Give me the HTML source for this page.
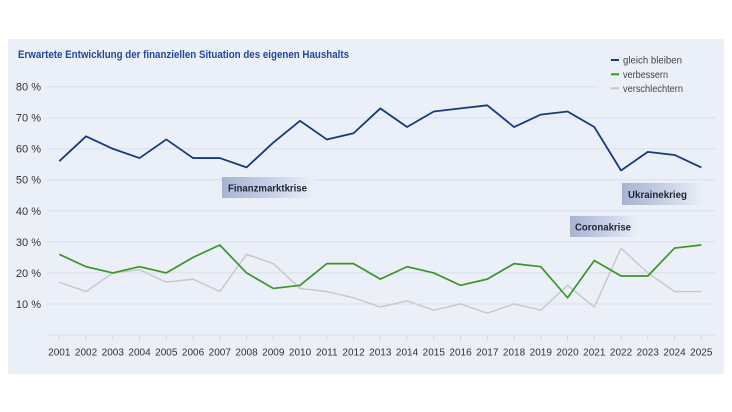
<!DOCTYPE html>
<html><head><meta charset="utf-8">
<style>
html,body{margin:0;padding:0;background:#fff;}
svg{display:block;}
text{font-family:"Liberation Sans",sans-serif;}
</style></head>
<body>
<svg width="732" height="412" viewBox="0 0 732 412" xmlns="http://www.w3.org/2000/svg">
<defs>
<linearGradient id="g1" x1="0" x2="1" y1="0" y2="0">
<stop offset="0" stop-color="#a6b3d2"/>
<stop offset="0.55" stop-color="#c9d2e6"/>
<stop offset="1" stop-color="#ebeff8"/>
</linearGradient>
</defs>
<rect x="0" y="0" width="732" height="412" fill="#fff"/>
<rect x="8" y="39" width="716" height="335" fill="#ebeff8"/>
<text x="18" y="58" font-size="11" font-weight="bold" fill="#21479a" textLength="331" lengthAdjust="spacingAndGlyphs">Erwartete Entwicklung der finanziellen Situation des eigenen Haushalts</text>

<g stroke="#d9dfeb" stroke-width="1">
<line x1="47" x2="598" y1="86.7" y2="86.7"/>
<line x1="47" x2="716" y1="117.7" y2="117.7"/>
<line x1="47" x2="716" y1="148.7" y2="148.7"/>
<line x1="47" x2="716" y1="179.7" y2="179.7"/>
<line x1="47" x2="716" y1="210.8" y2="210.8"/>
<line x1="47" x2="716" y1="241.9" y2="241.9"/>
<line x1="47" x2="716" y1="272.9" y2="272.9"/>
<line x1="47" x2="716" y1="304" y2="304"/>
<line x1="47" x2="716" y1="335" y2="335"/>
</g>
<g stroke="#d0d6e3" stroke-width="1">
<line x1="59.3" x2="59.3" y1="335" y2="340"/><line x1="86.05" x2="86.05" y1="335" y2="340"/><line x1="112.8" x2="112.8" y1="335" y2="340"/><line x1="139.55" x2="139.55" y1="335" y2="340"/><line x1="166.3" x2="166.3" y1="335" y2="340"/><line x1="193.05" x2="193.05" y1="335" y2="340"/><line x1="219.8" x2="219.8" y1="335" y2="340"/><line x1="246.55" x2="246.55" y1="335" y2="340"/><line x1="273.3" x2="273.3" y1="335" y2="340"/><line x1="300.05" x2="300.05" y1="335" y2="340"/><line x1="326.8" x2="326.8" y1="335" y2="340"/><line x1="353.55" x2="353.55" y1="335" y2="340"/><line x1="380.3" x2="380.3" y1="335" y2="340"/><line x1="407.05" x2="407.05" y1="335" y2="340"/><line x1="433.8" x2="433.8" y1="335" y2="340"/><line x1="460.55" x2="460.55" y1="335" y2="340"/><line x1="487.3" x2="487.3" y1="335" y2="340"/><line x1="514.05" x2="514.05" y1="335" y2="340"/><line x1="540.8" x2="540.8" y1="335" y2="340"/><line x1="567.55" x2="567.55" y1="335" y2="340"/><line x1="594.3" x2="594.3" y1="335" y2="340"/><line x1="621.05" x2="621.05" y1="335" y2="340"/><line x1="647.8" x2="647.8" y1="335" y2="340"/><line x1="674.55" x2="674.55" y1="335" y2="340"/><line x1="701.3" x2="701.3" y1="335" y2="340"/>
</g>

<g font-size="11" fill="#333" text-anchor="end">
<text x="41" y="90.7">80 %</text>
<text x="41" y="121.7">70 %</text>
<text x="41" y="152.7">60 %</text>
<text x="41" y="183.7">50 %</text>
<text x="41" y="214.8">40 %</text>
<text x="41" y="245.9">30 %</text>
<text x="41" y="276.9">20 %</text>
<text x="41" y="308">10 %</text>
</g>

<g font-size="10" fill="#333" text-anchor="middle">
<text x="59.3" y="355.5">2001</text><text x="86.05" y="355.5">2002</text><text x="112.8" y="355.5">2003</text><text x="139.55" y="355.5">2004</text><text x="166.3" y="355.5">2005</text><text x="193.05" y="355.5">2006</text><text x="219.8" y="355.5">2007</text><text x="246.55" y="355.5">2008</text><text x="273.3" y="355.5">2009</text><text x="300.05" y="355.5">2010</text><text x="326.8" y="355.5">2011</text><text x="353.55" y="355.5">2012</text><text x="380.3" y="355.5">2013</text><text x="407.05" y="355.5">2014</text><text x="433.8" y="355.5">2015</text><text x="460.55" y="355.5">2016</text><text x="487.3" y="355.5">2017</text><text x="514.05" y="355.5">2018</text><text x="540.8" y="355.5">2019</text><text x="567.55" y="355.5">2020</text><text x="594.3" y="355.5">2021</text><text x="621.05" y="355.5">2022</text><text x="647.8" y="355.5">2023</text><text x="674.55" y="355.5">2024</text><text x="701.3" y="355.5">2025</text>
</g>

<!-- annotation boxes -->
<rect x="222" y="177" width="92" height="21" fill="url(#g1)"/>
<text x="228" y="191.5" font-size="10" font-weight="bold" fill="#1e2636" textLength="79" lengthAdjust="spacingAndGlyphs">Finanzmarktkrise</text>
<rect x="622" y="183" width="82" height="22" fill="url(#g1)"/>
<text x="628" y="198" font-size="10" font-weight="bold" fill="#1e2636" textLength="59" lengthAdjust="spacingAndGlyphs">Ukrainekrieg</text>
<rect x="570" y="216" width="68" height="21" fill="url(#g1)"/>
<text x="575" y="230.5" font-size="10" font-weight="bold" fill="#1e2636" textLength="56" lengthAdjust="spacingAndGlyphs">Coronakrise</text>

<!-- series -->
<g transform="translate(59.3,335) scale(26.75,-3.104)" fill="none" stroke-linejoin="round">
<polyline vector-effect="non-scaling-stroke" stroke="#c6c7c9" stroke-width="1.4" points="0,17 1,14 2,20 3,21 4,17 5,18 6,14 7,26 8,23 9,15 10,14 11,12 12,9 13,11 14,8 15,10 16,7 17,10 18,8 19,16 20,9 21,28 22,20 23,14 24,14"/>
<polyline vector-effect="non-scaling-stroke" stroke="#3a9626" stroke-width="1.7" points="0,26 1,22 2,20 3,22 4,20 5,25 6,29 7,20 8,15 9,16 10,23 11,23 12,18 13,22 14,20 15,16 16,18 17,23 18,22 19,12 20,24 21,19 22,19 23,28 24,29"/>
<polyline vector-effect="non-scaling-stroke" stroke="#173a7e" stroke-width="1.8" points="0,56 1,64 2,60 3,57 4,63 5,57 6,57 7,54 8,62 9,69 10,63 11,65 12,73 13,67 14,72 15,73 16,74 17,67 18,71 19,72 20,67 21,53 22,59 23,58 24,54"/>
</g>

<!-- legend -->
<line x1="611" x2="619" y1="60" y2="60" stroke="#173a7e" stroke-width="2"/>
<line x1="611" x2="619" y1="74.3" y2="74.3" stroke="#3a9626" stroke-width="2"/>
<line x1="611" x2="619" y1="88.3" y2="88.3" stroke="#c6c7c9" stroke-width="2"/>
<g font-size="10" fill="#444">
<text x="623" y="63.5" textLength="59" lengthAdjust="spacingAndGlyphs">gleich bleiben</text>
<text x="623" y="77.8" textLength="45" lengthAdjust="spacingAndGlyphs">verbessern</text>
<text x="623" y="91.8" textLength="60" lengthAdjust="spacingAndGlyphs">verschlechtern</text>
</g>
</svg>
</body></html>
